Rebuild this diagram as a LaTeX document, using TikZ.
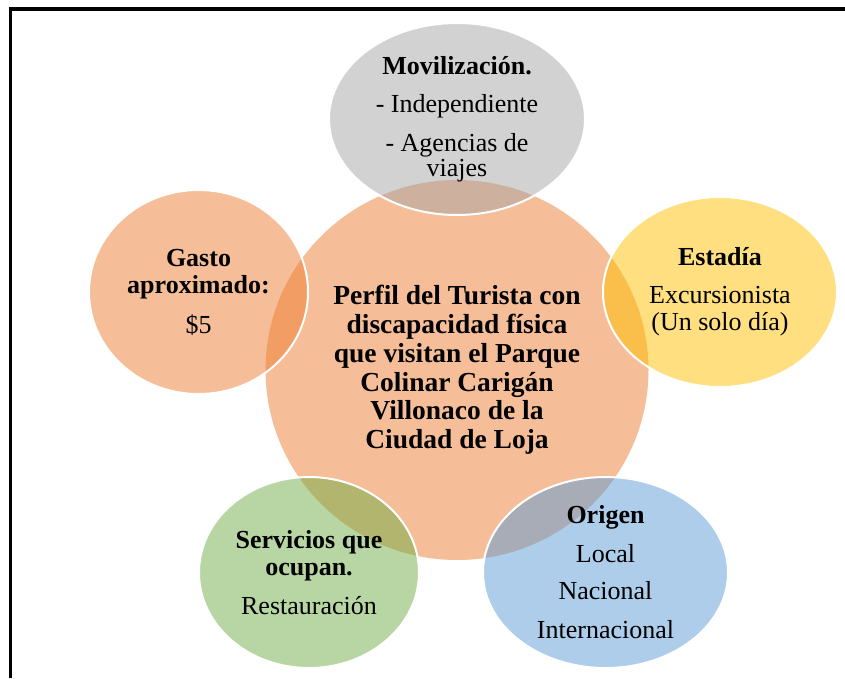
\documentclass[tikz,border=0pt]{standalone}
\usepackage{fontspec}
\setmainfont{Liberation Serif}
\usetikzlibrary{shapes.geometric}
\definecolor{orangeC}{HTML}{ED7D31}
\definecolor{grayC}{HTML}{A5A5A5}
\definecolor{goldC}{HTML}{FFC000}
\definecolor{blueC}{HTML}{5B9BD5}
\definecolor{greenC}{HTML}{70AD47}
\tikzset{
	bubble/.style={ellipse, inner sep=0pt, fill opacity=0.5, text opacity=1, align=center, font=\fontsize{26}{27}\selectfont},
	rim/.style={draw=white, line width=2pt, draw opacity=1},
}

\begin{document}
\begin{tikzpicture}[x=1pt, y=-1pt]
		%%%%% START %%%%%
		
		\useasboundingbox (0, 0) rectangle (845, 678);
		
		\draw[line width=3.5pt, line join=miter] (10.3, 678) -- (10.3, 8.8) -- (845, 8.8);
		
		\node[bubble, fill=orangeC, minimum width=383pt, minimum height=380pt, font=\bfseries\fontsize{27.5}{28.8}\selectfont] (perfil) at (457, 370)
			{Perfil del Turista con\\discapacidad física\\que visitan el Parque\\Colinar Carigán\\Villonaco de la\\Ciudad de Loja};
		
		\node[bubble, rim, fill=grayC, minimum width=256pt, minimum height=192pt] (movil) at (457, 119)
			{\textbf{Movilización.}\\[11.5pt]- Independiente\\[12pt]- Agencias de\\[-2pt]viajes};
		
		\node[bubble, rim, fill=goldC, minimum width=234pt, minimum height=190pt] (estadia) at (720, 292)
			{\textbf{Estadía}\\[11pt]Excursionista\\(Un solo día)};
		
		\node[bubble, rim, fill=blueC, minimum width=245pt, minimum height=191pt] (origen) at (605.5, 572.5)
			{\textbf{Origen}\\[12pt]Local\\[10pt]Nacional\\[12pt]Internacional};
		
		\node[bubble, rim, fill=greenC, minimum width=220pt, minimum height=191pt] (servicios) at (309, 572.5)
			{\textbf{Servicios que}\\\textbf{ocupan.}\\[12pt]Restauración};
		
		\node[bubble, rim, fill=orangeC, minimum width=219pt, minimum height=204pt] (gasto) at (198.5, 292)
			{\textbf{Gasto}\\\textbf{aproximado:}\\[13pt]\$5};
		
		%%%%% END %%%%%
	\end{tikzpicture}
\end{document}
